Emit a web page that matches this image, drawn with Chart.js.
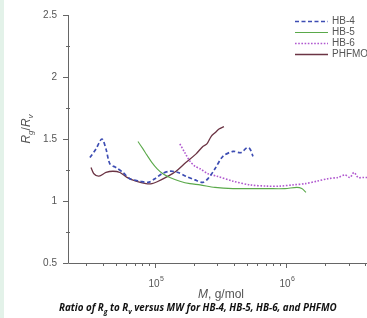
<!DOCTYPE html>
<html>
<head>
<meta charset="utf-8">
<script src="https://cdn.jsdelivr.net/npm/chart.js@4"></script>
<style>
html,body{margin:0;padding:0;background:#fff;}
#wrap{position:relative;width:367px;height:318px;overflow:hidden;}
#strip{position:absolute;left:0;top:0;width:4px;height:318px;background:#e3f2e9;}
canvas{position:absolute;left:0;top:0;}
</style>
</head>
<body>
<div id="wrap"><div id="strip"></div><canvas id="c" width="367" height="318"></canvas></div>
<script>
// ---- data (M in g/mol, ratio Rg/Rv) ----
const seriesNames = ['HB-4', 'HB-5', 'HB-6', 'PHFMO'];

const hb4M = [3.19e4, 3.55e4, 3.94e4, 4.23e4, 4.53e4, 5.04e4, 5.70e4, 6.44e4, 7.68e4, 8.85e4, 1.0e5, 1.13e5, 1.30e5, 1.50e5, 1.72e5, 2.02e5, 2.32e5, 2.54e5, 2.87e5, 3.30e5, 3.94e5, 4.53e5, 5.04e5, 5.31e5, 5.60e5];
const hb4R = [1.35, 1.42, 1.50, 1.42, 1.30, 1.27, 1.23, 1.18, 1.16, 1.15, 1.18, 1.22, 1.24, 1.23, 1.20, 1.17, 1.15, 1.18, 1.26, 1.36, 1.40, 1.39, 1.43, 1.42, 1.36];

const hb5M = [7.42e4, 8.10e4, 8.69e4, 9.49e4, 1.04e5, 1.15e5, 1.30e5, 1.55e5, 1.85e5, 2.21e5, 2.87e5, 3.94e5, 5.31e5, 7.16e5, 9.83e5, 1.21e6, 1.32e6, 1.42e6];
const hb5R = [1.48, 1.42, 1.37, 1.31, 1.26, 1.22, 1.19, 1.16, 1.14, 1.13, 1.11, 1.10, 1.10, 1.10, 1.10, 1.11, 1.10, 1.07];

const hb6M = [1.55e5, 1.69e5, 1.85e5, 2.02e5, 2.21e5, 2.54e5, 2.97e5, 3.94e5, 5.31e5, 7.16e5, 9.00e5, 1.13e6, 1.40e6, 1.72e6, 2.09e6, 2.49e6, 2.82e6, 3.08e6, 3.30e6, 3.55e6, 3.87e6, 4.38e6];
const hb6R = [1.46, 1.39, 1.32, 1.28, 1.26, 1.22, 1.20, 1.16, 1.13, 1.12, 1.12, 1.13, 1.14, 1.16, 1.18, 1.19, 1.21, 1.19, 1.23, 1.19, 1.19, 1.19];

const phfmoM = [3.25e4, 3.42e4, 3.74e4, 4.23e4, 4.78e4, 5.41e4, 6.11e4, 7.16e4, 8.54e4, 9.49e4, 1.04e5, 1.21e5, 1.45e5, 1.72e5, 2.06e5, 2.32e5, 2.49e5, 2.68e5, 2.87e5, 3.08e5, 3.36e5];
const phfmoR = [1.27, 1.22, 1.20, 1.23, 1.24, 1.23, 1.19, 1.16, 1.14, 1.14, 1.155, 1.19, 1.24, 1.31, 1.38, 1.44, 1.46, 1.52, 1.55, 1.58, 1.60];

const yTickValues = [0.5, 1, 1.5, 2, 2.5];
const yTickLabels = ['0.5', '1', '1.5', '2', '2.5'];
const xMajorTicks = [1e5, 1e6];
const xMajorLabels = [['10', '5'], ['10', '6']];
const xMin = 2.17e4, xMax = 4.15e6;
const yMin = 0.5, yMax = 2.5;

// ---- styles ----
const colors = ['#3d4db3', '#5aa94a', '#b058cf', '#6b3444'];
const dashes = [[4, 2.5], [], [1.6, 1.6], []];
const widths = [1.7, 1.1, 1.6, 1.3];
const axisColor = '#666';
const textColor = '#555';

function zip(xs, ys) { return xs.map((x, i) => ({ x: x, y: ys[i] })); }
const allData = [zip(hb4M, hb4R), zip(hb5M, hb5R), zip(hb6M, hb6R), zip(phfmoM, phfmoR)];

const datasets = seriesNames.map((n, i) => ({
  label: n,
  data: allData[i],
  borderColor: colors[i],
  borderDash: dashes[i],
  borderWidth: widths[i],
  pointRadius: 0,
  tension: 0.3,
  fill: false
}));

const decorPlugin = {
  id: 'decor',
  afterDraw(chart) {
    const ctx = chart.ctx;
    const xs = chart.scales.x, ys = chart.scales.y;
    const ca = chart.chartArea;
    ctx.save();
    // axis lines
    ctx.strokeStyle = axisColor;
    ctx.lineWidth = 1;
    ctx.setLineDash([]);
    ctx.beginPath();
    ctx.moveTo(ca.left + 0.5, ca.top);
    ctx.lineTo(ca.left + 0.5, ca.bottom + 0.5);
    ctx.lineTo(ca.right, ca.bottom + 0.5);
    ctx.stroke();

    // y ticks
    ctx.font = '10px "Liberation Sans", Arial, sans-serif';
    ctx.fillStyle = textColor;
    ctx.textAlign = 'right';
    ctx.textBaseline = 'middle';
    for (let v = yMin; v <= yMax + 1e-9; v += 0.25) {
      const py = Math.round(ys.getPixelForValue(v)) + 0.5;
      const major = Math.abs(v * 2 - Math.round(v * 2)) < 1e-6;
      ctx.beginPath();
      if (major) { ctx.moveTo(ca.left - 5, py); ctx.lineTo(ca.left, py); }
      else { ctx.moveTo(ca.left - 2, py); ctx.lineTo(ca.left + 2, py); }
      ctx.stroke();
    }
    yTickValues.forEach((v, i) => {
      ctx.fillText(yTickLabels[i], ca.left - 11, ys.getPixelForValue(v) + 0.5);
    });

    // x ticks (log minor/major)
    for (let e = 4; e <= 6; e++) {
      for (let m = 1; m <= 9; m++) {
        const val = m * Math.pow(10, e);
        if (val < xMin || val > xMax) continue;
        const px = Math.round(xs.getPixelForValue(val)) + 0.5;
        ctx.beginPath();
        ctx.moveTo(px, ca.bottom);
        ctx.lineTo(px, ca.bottom + (m === 1 ? 5 : 3));
        ctx.stroke();
      }
    }
    xMajorTicks.forEach((v, i) => {
      const px = xs.getPixelForValue(v);
      const base = xMajorLabels[i][0], exp = xMajorLabels[i][1];
      ctx.font = '10px "Liberation Sans", Arial, sans-serif';
      const wb = ctx.measureText(base).width;
      ctx.font = '7px "Liberation Sans", Arial, sans-serif';
      const we = ctx.measureText(exp).width;
      const x0 = px - (wb + we) / 2 + 1;
      ctx.textAlign = 'left';
      ctx.textBaseline = 'alphabetic';
      ctx.font = '10px "Liberation Sans", Arial, sans-serif';
      ctx.fillText(base, x0, 287);
      ctx.font = '7px "Liberation Sans", Arial, sans-serif';
      ctx.fillText(exp, x0 + wb + 0.5, 281);
    });

    // x title
    ctx.textAlign = 'left';
    ctx.textBaseline = 'alphabetic';
    ctx.font = 'italic 12px "Liberation Sans", Arial, sans-serif';
    let tx = 198;
    ctx.fillText('M', tx, 298);
    tx += ctx.measureText('M').width;
    ctx.font = '12px "Liberation Sans", Arial, sans-serif';
    ctx.fillText(', g/mol', tx, 298);

    // y title (rotated)
    ctx.save();
    ctx.translate(26, 129);
    ctx.rotate(-Math.PI / 2);
    const parts = [['R', 'italic 12px', 0], ['g', 'italic 8px', 3], ['/', '12px', 0], ['R', 'italic 12px', 0], ['v', 'italic 8px', 3]];
    let tw = 0;
    parts.forEach(p => { ctx.font = p[1] + ' "Liberation Sans", Arial, sans-serif'; tw += ctx.measureText(p[0]).width; });
    let cx = -tw / 2;
    parts.forEach(p => {
      ctx.font = p[1] + ' "Liberation Sans", Arial, sans-serif';
      ctx.fillText(p[0], cx, 4 + p[2]);
      cx += ctx.measureText(p[0]).width;
    });
    ctx.restore();

    // legend
    chart.data.datasets.forEach((ds, i) => {
      const ly = 21 + i * 11 + 0.5;
      ctx.strokeStyle = ds.borderColor;
      ctx.lineWidth = ds.borderWidth;
      ctx.setLineDash(ds.borderDash);
      ctx.beginPath();
      ctx.moveTo(295, ly);
      ctx.lineTo(328, ly);
      ctx.stroke();
      ctx.setLineDash([]);
      ctx.fillStyle = textColor;
      ctx.font = '10px "Liberation Sans", Arial, sans-serif';
      ctx.textAlign = 'left';
      ctx.textBaseline = 'middle';
      ctx.fillText(ds.label, 332, ly);
    });

    // caption
    ctx.fillStyle = '#111';
    ctx.textBaseline = 'alphabetic';
    const cap = [['Ratio of R', 0], ['g', 1], [' to R', 0], ['v', 1], [' versus MW for HB-4, HB-5, HB-6, and PHFMO', 0]];
    const family = '"Open Sans", "Noto Sans", sans-serif';
    const measure = fs => {
      let w = 0;
      cap.forEach(c => { ctx.font = 'italic bold ' + (c[1] ? fs * 0.7 : fs) + 'px ' + family; w += ctx.measureText(c[0]).width; });
      return w;
    };
    let fs = 9;
    fs = fs * 278 / measure(fs);
    let px = 59;
    cap.forEach(c => {
      ctx.font = 'italic bold ' + (c[1] ? fs * 0.7 : fs) + 'px ' + family;
      ctx.fillText(c[0], px, 311 + (c[1] ? 3 : 0));
      px += ctx.measureText(c[0]).width;
    });
    ctx.restore();
  }
};

new Chart(document.getElementById('c'), {
  type: 'line',
  data: { datasets: datasets },
  options: {
    responsive: false,
    animation: false,
    parsing: true,
    layout: { padding: { top: 15, right: 0, left: 0, bottom: 0 } },
    plugins: { legend: { display: false }, tooltip: { enabled: false } },
    scales: {
      x: {
        type: 'logarithmic',
        min: xMin, max: xMax,
        ticks: { display: false },
        grid: { display: false },
        border: { display: false },
        afterFit: s => { s.height = 55; }
      },
      y: {
        type: 'linear',
        min: yMin, max: yMax,
        ticks: { display: false },
        grid: { display: false },
        border: { display: false },
        afterFit: s => { s.width = 68; }
      }
    }
  },
  plugins: [decorPlugin]
});
</script>
</body>
</html>
